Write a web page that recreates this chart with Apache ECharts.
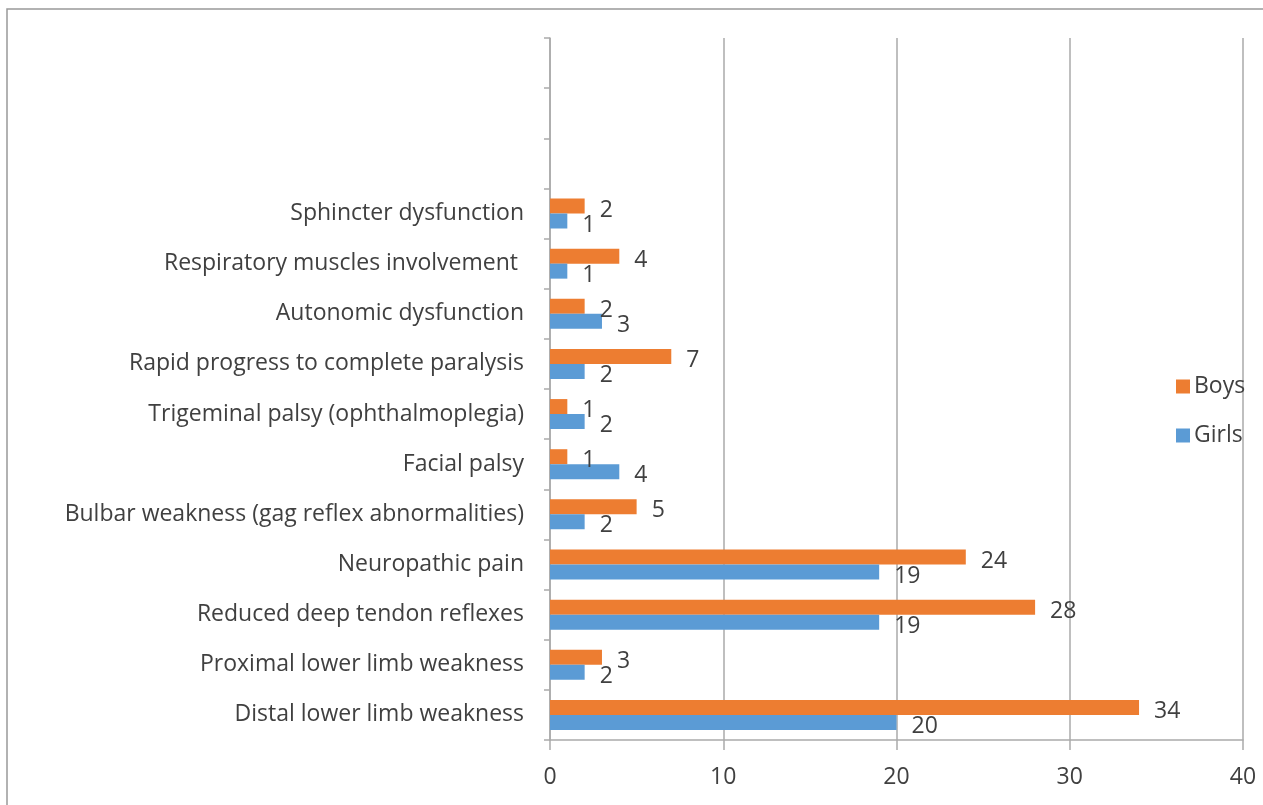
<!DOCTYPE html>
<html>
<head>
<meta charset="utf-8">
<script src="https://cdn.jsdelivr.net/npm/echarts@6/dist/echarts.min.js"></script>
<style>html,body{margin:0;padding:0;background:#fff;}#c{width:1263px;height:805px;}</style>
</head>
<body>
<div id="c"></div>
<script>
var categories = [
  "Distal lower limb weakness",
  "Proximal lower limb weakness",
  "Reduced deep tendon reflexes",
  "Neuropathic pain",
  "Bulbar weakness (gag reflex abnormalities)",
  "Facial palsy",
  "Trigeminal palsy (ophthalmoplegia)",
  "Rapid progress to complete paralysis",
  "Autonomic dysfunction",
  "Respiratory muscles involvement ",
  "Sphincter dysfunction",
  "", "", ""
];
var girls = [20, 2, 19, 19, 2, 4, 2, 2, 3, 1, 1, null, null, null];
var boys  = [34, 3, 28, 24, 5, 1, 1, 7, 2, 4, 2, null, null, null];
var xTicks = [0, 10, 20, 30, 40];

var FONT = 'Open Sans';
var TXT = '#404040';
var FS = 23;
var chart = echarts.init(document.getElementById('c'));
chart.setOption({
  animation: false,
  textStyle: { fontFamily: FONT },
  graphic: [{
    type: 'rect', shape: { x: 7, y: 9, width: 1400, height: 1000 },
    style: { fill: 'none', stroke: '#999', lineWidth: 1.5 }, silent: true, z: -1
  }],
  grid: { left: 550, right: 20, top: 38, bottom: 65, containLabel: false },
  legend: {
    orient: 'vertical', left: 1176, top: 375, padding: 0,
    itemWidth: 14, itemHeight: 14, itemGap: 26,
    icon: 'rect',
    data: ['Boys', 'Girls'],
    textStyle: { fontFamily: FONT, fontSize: FS, color: TXT, padding: [0, 0, 0, -1] }
  },
  xAxis: {
    type: 'value', min: xTicks[0], max: xTicks[xTicks.length - 1], interval: 10,
    axisLine: { show: true, lineStyle: { color: '#AAAAAA', width: 1.5 } },
    axisTick: { show: true, length: 10, lineStyle: { color: '#AAAAAA', width: 1.5 } },
    splitLine: { show: true, lineStyle: { color: '#AAAAAA', width: 1.5 } },
    axisLabel: { fontFamily: FONT, fontSize: FS, color: TXT, margin: 26 }
  },
  yAxis: {
    type: 'category', data: categories,
    axisLine: { show: true, lineStyle: { color: '#AAAAAA', width: 1.5 } },
    axisTick: { show: true, length: 6, inside: false, lineStyle: { color: '#AAAAAA', width: 1.5 } },
    axisLabel: { fontFamily: FONT, fontSize: FS, color: TXT, margin: 26, padding: [6, 0, 0, 0] }
  },
  series: [
    {
      name: 'Boys', type: 'bar', data: boys, barWidth: 15, barGap: '0%',
      itemStyle: { color: '#ED7D31' },
      label: { show: true, position: 'right', distance: 15, fontFamily: FONT, fontSize: FS, color: TXT, offset: [0, 4] }
    },
    {
      name: 'Girls', type: 'bar', data: girls, barWidth: 15, barGap: '0%',
      itemStyle: { color: '#5B9BD5' },
      label: { show: true, position: 'right', distance: 15, fontFamily: FONT, fontSize: FS, color: TXT, offset: [0, 4] }
    }
  ]
});
</script>
</body>
</html>
